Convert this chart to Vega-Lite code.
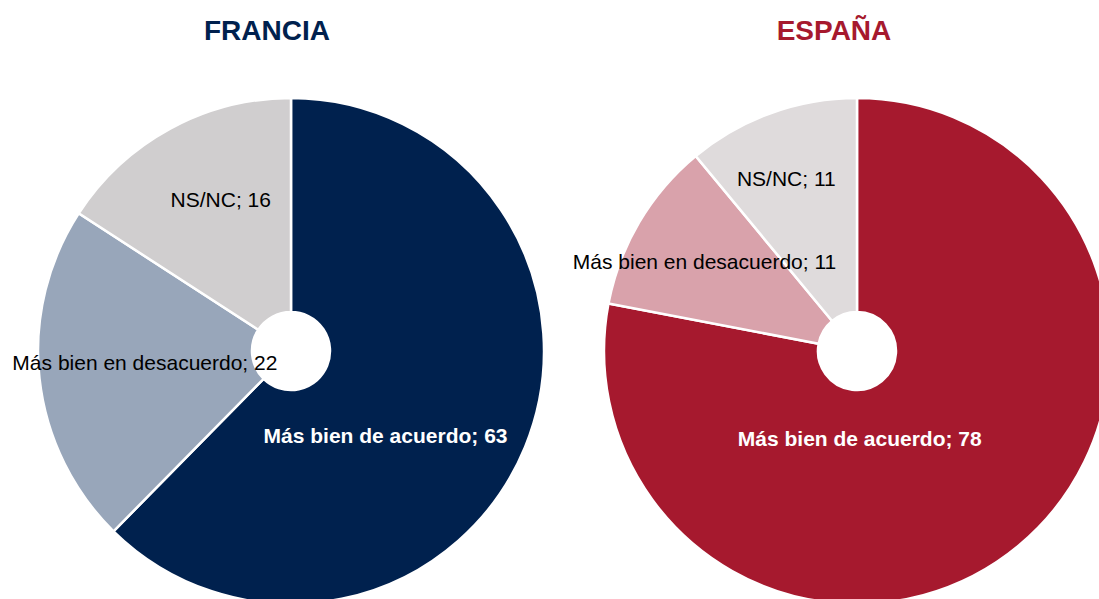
{
  "$schema": "https://vega.github.io/schema/vega-lite/v6.json",
  "padding": {"top": 18, "left": 0, "right": 0, "bottom": 0},
  "spacing": 22,
  "bounds": "flush",
  "background": "white",
  "resolve": {"scale": {"color": "independent", "theta": "independent"}},
  "config": {"view": {"stroke": null}, "font": "Liberation Sans"},
  "hconcat": [
    {
      "width": 582,
      "height": 530,
      "title": {"text": "FRANCIA", "color": "#00214e", "fontSize": 28, "font": "Liberation Sans", "fontWeight": "bold", "anchor": "middle", "dx": -24, "offset": 40},
      "data": {"values": [
        {"cat": "Más bien de acuerdo", "value": 63, "o": 1, "label": "Más bien de acuerdo; 63"},
        {"cat": "Más bien en desacuerdo", "value": 22, "o": 2, "label": "Más bien en desacuerdo; 22"},
        {"cat": "NS/NC", "value": 16, "o": 3, "label": "NS/NC; 16"}
      ]},
      "layer": [
        {
          "mark": {"type": "arc", "outerRadius": 253, "innerRadius": 39, "stroke": "white", "strokeWidth": 2.5},
          "encoding": {
            "theta": {"field": "value", "type": "quantitative", "stack": true},
            "order": {"field": "o", "type": "quantitative"},
            "color": {"field": "cat", "type": "nominal", "legend": null,
              "scale": {"domain": ["Más bien de acuerdo", "Más bien en desacuerdo", "NS/NC"], "range": ["#00214e", "#98a6ba", "#d0cecf"]}}
          }
        },
        {
          "mark": {"type": "text", "radius": 100, "dx": 2, "dy": 48, "fontSize": 21, "fontWeight": "bold", "color": "white", "font": "Liberation Sans"},
          "encoding": {
            "theta": {"field": "value", "type": "quantitative", "stack": true},
            "order": {"field": "o", "type": "quantitative"},
            "text": {"condition": {"test": "datum.o === 1", "field": "label"}, "value": ""}
          }
        },
        {
          "mark": {"type": "text", "radius": 147, "dx": 0, "dy": -3, "fontSize": 21, "color": "black", "font": "Liberation Sans"},
          "encoding": {
            "theta": {"field": "value", "type": "quantitative", "stack": true},
            "order": {"field": "o", "type": "quantitative"},
            "text": {"condition": {"test": "datum.o === 2", "field": "label"}, "value": ""}
          }
        },
        {
          "mark": {"type": "text", "radius": 166, "dx": 9, "dy": -4, "fontSize": 21, "color": "black", "font": "Liberation Sans"},
          "encoding": {
            "theta": {"field": "value", "type": "quantitative", "stack": true},
            "order": {"field": "o", "type": "quantitative"},
            "text": {"condition": {"test": "datum.o === 3", "field": "label"}, "value": ""}
          }
        }
      ]
    },
    {
      "width": 506,
      "height": 530,
      "title": {"text": "ESPAÑA", "color": "#a6192e", "fontSize": 28, "font": "Liberation Sans", "fontWeight": "bold", "anchor": "middle", "dx": -23, "offset": 40},
      "data": {"values": [
        {"cat": "Más bien de acuerdo", "value": 78, "o": 1, "label": "Más bien de acuerdo; 78"},
        {"cat": "Más bien en desacuerdo", "value": 11, "o": 2, "label": "Más bien en desacuerdo; 11"},
        {"cat": "NS/NC", "value": 11, "o": 3, "label": "NS/NC; 11"}
      ]},
      "layer": [
        {
          "mark": {"type": "arc", "outerRadius": 253, "innerRadius": 39, "stroke": "white", "strokeWidth": 2.5},
          "encoding": {
            "theta": {"field": "value", "type": "quantitative", "stack": true},
            "order": {"field": "o", "type": "quantitative"},
            "color": {"field": "cat", "type": "nominal", "legend": null,
              "scale": {"domain": ["Más bien de acuerdo", "Más bien en desacuerdo", "NS/NC"], "range": ["#a6192e", "#d9a2ab", "#dfdbdc"]}}
          }
        },
        {
          "mark": {"type": "text", "radius": 100, "dx": -61, "dy": 12, "fontSize": 21, "fontWeight": "bold", "color": "white", "font": "Liberation Sans"},
          "encoding": {
            "theta": {"field": "value", "type": "quantitative", "stack": true},
            "order": {"field": "o", "type": "quantitative"},
            "text": {"condition": {"test": "datum.o === 1", "field": "label"}, "value": ""}
          }
        },
        {
          "mark": {"type": "text", "radius": 176, "dx": -1, "dy": 2, "fontSize": 21, "color": "black", "font": "Liberation Sans"},
          "encoding": {
            "theta": {"field": "value", "type": "quantitative", "stack": true},
            "order": {"field": "o", "type": "quantitative"},
            "text": {"condition": {"test": "datum.o === 2", "field": "label"}, "value": ""}
          }
        },
        {
          "mark": {"type": "text", "radius": 185, "dx": -8, "dy": 3, "fontSize": 21, "color": "black", "font": "Liberation Sans"},
          "encoding": {
            "theta": {"field": "value", "type": "quantitative", "stack": true},
            "order": {"field": "o", "type": "quantitative"},
            "text": {"condition": {"test": "datum.o === 3", "field": "label"}, "value": ""}
          }
        }
      ]
    }
  ]
}
